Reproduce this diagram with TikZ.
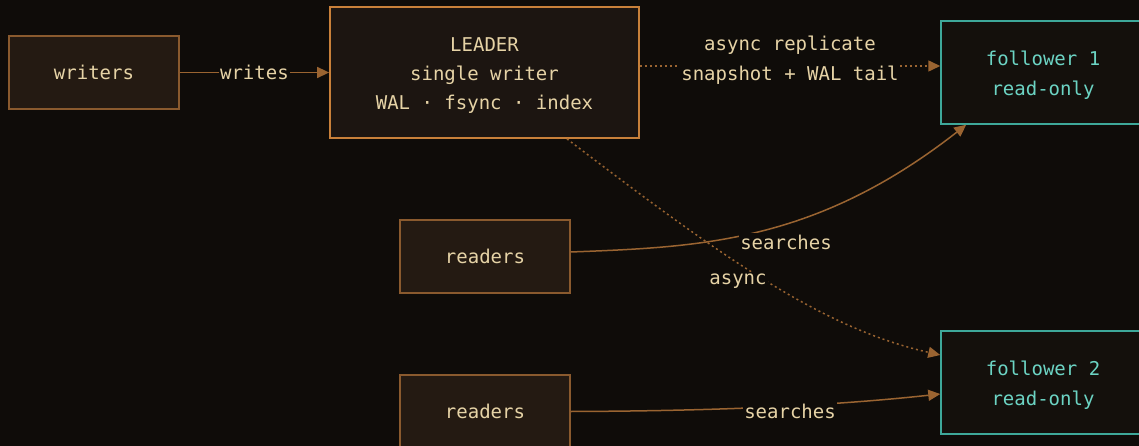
\documentclass[tikz,border=0pt]{standalone}
\usepackage{fontspec}
\setmonofont{DejaVu Sans Mono}
\usetikzlibrary{arrows.meta}
\definecolor{bg}{HTML}{0F0C09}
\definecolor{cream}{HTML}{E6D3A6}
\definecolor{tealtext}{HTML}{6CD4C4}
\definecolor{srcfill}{HTML}{241A12}
\definecolor{srcline}{HTML}{8A5A2E}
\definecolor{leadfill}{HTML}{1C1511}
\definecolor{leadline}{HTML}{C8803A}
\definecolor{follfill}{HTML}{14100C}
\definecolor{follline}{HTML}{3EA89A}
\definecolor{edge}{HTML}{9A6431}
\tikzset{
  txt/.style={font=\ttfamily\fontsize{19}{30}\selectfont, align=center},
  box/.style={txt, draw, inner sep=0pt, text=cream},
  srcbox/.style={box, fill=srcfill, draw=srcline, line width=1.5pt,
    minimum width=170pt, minimum height=73pt},
  leadbox/.style={box, fill=leadfill, draw=leadline, line width=1.8pt,
    font=\ttfamily\fontsize{19}{29}\selectfont,
    minimum width=309pt, minimum height=131pt},
  follbox/.style={box, fill=follfill, draw=follline, line width=1.5pt,
    text=tealtext, minimum width=204pt, minimum height=103pt},
  link/.style={draw=edge, line width=1.5pt,
    -{Triangle[length=12pt,width=11pt]}},
  dotlink/.style={link, dash pattern=on 2pt off 3pt},
  lbl/.style={txt, fill=bg, text=cream, inner xsep=1pt, inner ysep=2pt},
}
% taller first line: lowers a stacked text block inside its box
\newcommand{\toppad}{\rule{0pt}{20pt}}
\begin{document}
\begin{tikzpicture}[x=1pt,y=-1pt]
  % canvas
  \fill[bg] (0,0) rectangle (1139,446);
  \useasboundingbox (0,0) rectangle (1139,446);
  \clip (0,0) rectangle (1139,446);

  % nodes
  \node[srcbox]  (writers)   at (94,72.5)    {writers};
  \node[leadbox] (leader)    at (484.5,72.5) {\toppad LEADER\\single writer\\WAL · fsync · index};
  \node[follbox] (follower1) at (1043,72.5)  {\toppad follower 1\\read-only};
  \node[srcbox]  (readers1)  at (485,256.5)  {readers};
  \node[srcbox]  (readers2)  at (485,411.5)  {readers};
  \node[follbox] (follower2) at (1043,382.5) {\toppad follower 2\\read-only};

  % write path
  \draw[link] (writers.east) -- node[lbl] {writes} (leader.west);

  % replication to follower 1
  \draw[dotlink] ([yshift=6.5pt]leader.east) -- ([yshift=6.5pt]follower1.west);
  \node[lbl] (replbl) at (790,60) {async replicate\\snapshot + WAL tail};

  % replication to follower 2
  \draw[dotlink] ([xshift=82.5pt]leader.south)
    .. controls (715,252) and (820,328) .. ([yshift=27.5pt]follower2.west);
  \node[lbl] (asynclbl) at (738,281) {async};

  % reads from follower 1
  \draw[link] ([yshift=4.5pt]readers1.east)
    .. controls (700,247) and (815,243) .. ([xshift=26pt]follower1.south west);
  \node[lbl] (search1) at (786,242) {searches};

  % reads from follower 2
  \draw[link] (readers2.east)
    .. controls (700,411) and (820,407) .. ([yshift=-11.5pt]follower2.west);
  \node[lbl] (search2) at (790,411) {searches};
\end{tikzpicture}
\end{document}
